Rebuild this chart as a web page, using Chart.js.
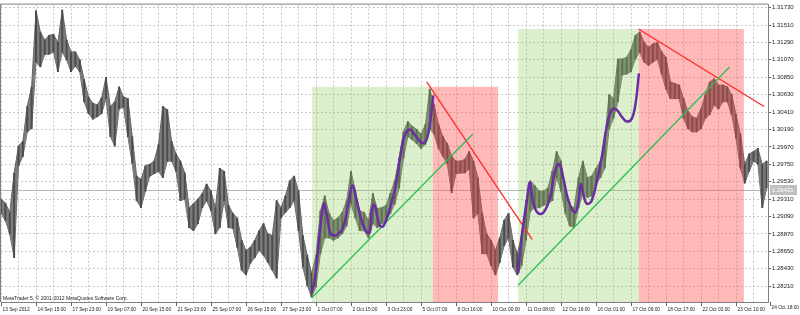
<!DOCTYPE html>
<html>
<head>
<meta charset="utf-8">
<script src="https://cdn.jsdelivr.net/npm/chart.js@4.4.1/dist/chart.umd.min.js"></script>
<style>
  html, body { margin: 0; padding: 0; background: #fff; }
  #wrap { width: 800px; height: 315px; }
</style>
</head>
<body>
<div id="wrap"><canvas id="c" width="800" height="315"></canvas></div>
<script>
// one x unit = 4 hourly bars, a date label every 8 units
const xLabels = ["13 Sep 2012", "14 Sep 15:00", "17 Sep 23:00", "19 Sep 07:00", "20 Sep 15:00",
  "21 Sep 23:00", "25 Sep 07:00", "26 Sep 15:00", "27 Sep 23:00", "1 Oct 07:00", "2 Oct 15:00",
  "3 Oct 23:00", "5 Oct 07:00", "8 Oct 16:00", "10 Oct 00:00", "11 Oct 08:00", "12 Oct 16:00",
  "16 Oct 01:00", "17 Oct 09:00", "18 Oct 17:00", "22 Oct 02:00", "23 Oct 10:00", "24 Oct 18:00"];

const yTicks = [1.31730, 1.31510, 1.31290, 1.31070, 1.30850, 1.30630, 1.30410, 1.30190, 1.29970,
  1.29750, 1.29530, 1.29310, 1.29090, 1.28870, 1.28650, 1.28430, 1.28210];

const highs = [
  1.2931, 1.2926, 1.2914, 1.2964, 1.2998, 1.3004, 1.3048, 1.3073, 1.3169, 1.3142,
  1.3132, 1.3138, 1.3139, 1.3129, 1.3170, 1.3132, 1.3117, 1.3117, 1.3107, 1.3082,
  1.3060, 1.3052, 1.3050, 1.3059, 1.3085, 1.3048, 1.3054, 1.3073, 1.3060, 1.3058,
  1.3010, 1.2960, 1.2956, 1.2973, 1.2975, 1.2979, 1.3000, 1.3048, 1.3044, 1.3004,
  1.2988, 1.2979, 1.2964, 1.2920, 1.2925, 1.2931, 1.2938, 1.2950, 1.2941, 1.2920,
  1.2970, 1.2966, 1.2923, 1.2913, 1.2907, 1.2879, 1.2866, 1.2870, 1.2879, 1.2891,
  1.2900, 1.2887, 1.2885, 1.2929, 1.2920, 1.2935, 1.2954, 1.2960, 1.2941, 1.2885,
  1.2860, 1.2837, 1.2860, 1.2916, 1.2935, 1.2913, 1.2904, 1.2907, 1.2914, 1.2929,
  1.2966, 1.2941, 1.2916, 1.2914, 1.2904, 1.2938, 1.2919, 1.2920, 1.2923, 1.2938,
  1.2954, 1.2983, 1.3016, 1.3029, 1.3023, 1.3019, 1.3013, 1.3025, 1.3070, 1.3050,
  1.3025, 1.3010, 1.3001, 1.2985, 1.2979, 1.2979, 1.2981, 1.2991, 1.2979, 1.2958,
  1.2913, 1.2887, 1.2879, 1.2866, 1.2882, 1.2904, 1.2913, 1.2879, 1.2862, 1.2885,
  1.2929, 1.2954, 1.2948, 1.2941, 1.2941, 1.2945, 1.2966, 1.2991, 1.2979, 1.2945,
  1.2923, 1.2920, 1.2958, 1.2979, 1.2958, 1.2960, 1.2970, 1.2979, 1.3008, 1.3063,
  1.3058, 1.3108, 1.3108, 1.3110, 1.3120, 1.3138, 1.3142, 1.3129, 1.3123, 1.3127,
  1.3129, 1.3117, 1.3110, 1.3079, 1.3077, 1.3075, 1.3058, 1.3042, 1.3035, 1.3033,
  1.3045, 1.3063, 1.3079, 1.3083, 1.3075, 1.3075, 1.3073, 1.3063, 1.3038, 1.3013,
  1.2975, 1.2988, 1.2991, 1.2995, 1.2975, 1.2979
];

const lows = [
  1.2913, 1.2904, 1.2887, 1.2857, 1.2973, 1.2985, 1.3016, 1.3020, 1.3104, 1.3098,
  1.3114, 1.3114, 1.3117, 1.3092, 1.3117, 1.3107, 1.3092, 1.3099, 1.3092, 1.3054,
  1.3039, 1.3032, 1.3035, 1.3039, 1.3058, 1.3010, 1.2998, 1.3045, 1.3047, 1.3010,
  1.2976, 1.2929, 1.2920, 1.2941, 1.2960, 1.2963, 1.2966, 1.2958, 1.2979, 1.2979,
  1.2966, 1.2929, 1.2931, 1.2895, 1.2891, 1.2900, 1.2920, 1.2929, 1.2916, 1.2887,
  1.2895, 1.2929, 1.2895, 1.2894, 1.2870, 1.2841, 1.2835, 1.2850, 1.2857, 1.2866,
  1.2860, 1.2851, 1.2841, 1.2831, 1.2907, 1.2914, 1.2920, 1.2929, 1.2891, 1.2845,
  1.2822, 1.2807, 1.2820, 1.2862, 1.2882, 1.2882, 1.2879, 1.2882, 1.2887, 1.2897,
  1.2925, 1.2907, 1.2891, 1.2891, 1.2882, 1.2900, 1.2895, 1.2900, 1.2904, 1.2913,
  1.2925, 1.2945, 1.2983, 1.3010, 1.3006, 1.3001, 1.2995, 1.3000, 1.3020, 1.3013,
  1.2995, 1.2985, 1.2976, 1.2939, 1.2963, 1.2964, 1.2964, 1.2969, 1.2907, 1.2913,
  1.2862, 1.2862, 1.2847, 1.2835, 1.2851, 1.2872, 1.2882, 1.2845, 1.2835, 1.2847,
  1.2879, 1.2916, 1.2920, 1.2920, 1.2923, 1.2925, 1.2929, 1.2958, 1.2941, 1.2913,
  1.2897, 1.2895, 1.2920, 1.2938, 1.2933, 1.2935, 1.2950, 1.2958, 1.2970, 1.3020,
  1.3033, 1.3054, 1.3088, 1.3089, 1.3092, 1.3108, 1.3117, 1.3104, 1.3100, 1.3104,
  1.3108, 1.3089, 1.3070, 1.3058, 1.3058, 1.3058, 1.3033, 1.3020, 1.3016, 1.3016,
  1.3020, 1.3033, 1.3038, 1.3050, 1.3045, 1.3054, 1.3054, 1.3038, 1.3008, 1.2970,
  1.2951, 1.2966, 1.2979, 1.2975, 1.2920, 1.2945
];

const lastPrice = 1.29421;

// [from, to, top price] - zones run down to the bottom of the chart
const buyZones = [[71.1, 98.7, 1.3073], [118.2, 145.8, 1.3146]];
const sellZones = [[98.7, 113.6, 1.3073], [145.8, 169.8, 1.3146]];

const supportLines = [
  [[71.0, 1.2806], [107.8, 1.3013]],
  [[118.2, 1.2822], [166.5, 1.3098]]
];
const resistLines = [
  [[97.3, 1.3079], [121.4, 1.2880]],
  [[145.7, 1.3146], [174.4, 1.3048]]
];

const wave1 = [[71.0, 1.2812], [71.8, 1.2833], [72.9, 1.2891], [73.8, 1.2925], [74.4, 1.2913],
  [75.2, 1.2889], [76.0, 1.2885], [77.1, 1.2887], [78.2, 1.2895], [79.4, 1.2925], [80.3, 1.2948],
  [81.3, 1.2929], [82.4, 1.2904], [83.6, 1.2889], [84.3, 1.2889], [84.7, 1.2916], [85.3, 1.2924],
  [85.9, 1.2912], [86.6, 1.2897], [87.4, 1.2897], [88.5, 1.2912], [90.1, 1.2945], [91.2, 1.2983],
  [92.3, 1.3012], [93.5, 1.3019], [94.6, 1.3012], [96.2, 1.3002], [97.1, 1.3004], [97.9, 1.3021],
  [98.8, 1.3062]];

const wave2 = [[118.2, 1.2837], [119.0, 1.2883], [120.2, 1.2929], [120.9, 1.2952], [121.7, 1.2925],
  [122.8, 1.2913], [124.0, 1.2914], [125.5, 1.2933], [126.6, 1.2966], [127.6, 1.2975], [128.5, 1.2958],
  [129.7, 1.2929], [131.2, 1.2914], [132.0, 1.2929], [132.5, 1.2950], [133.1, 1.2937], [133.9, 1.2925],
  [135.0, 1.2929], [136.2, 1.2954], [137.3, 1.2983], [138.4, 1.3021], [139.6, 1.3044], [140.7, 1.3044],
  [141.9, 1.3035], [143.0, 1.3029], [144.2, 1.3033], [145.1, 1.3054], [145.8, 1.3090]];

const FONT = "Liberation Sans";

function lineSet(points, color, width, tension) {
  return {
    data: points.map(p => ({ x: p[0], y: p[1] })),
    borderColor: color,
    borderWidth: width,
    pointRadius: 0,
    tension: tension,
    fill: false,
    order: 0
  };
}

const overlay = {
  id: "overlay",
  beforeDatasetsDraw(chart) {
    const { ctx, chartArea: a, scales: { y } } = chart;
    const py = Math.round(y.getPixelForValue(lastPrice)) + 0.5;
    ctx.save();
    ctx.strokeStyle = "#b8b8b8";
    ctx.lineWidth = 1;
    ctx.beginPath();
    ctx.moveTo(a.left, py);
    ctx.lineTo(a.right, py);
    ctx.stroke();
    ctx.restore();
  },
  afterDatasetDraw(chart, args) {
    // shade the zones over the price, under the drawn lines
    if (!chart.data.datasets[args.index].priceBars) return;
    const { ctx, chartArea: a, scales: { x, y } } = chart;
    ctx.save();
    ctx.beginPath();
    ctx.rect(a.left, a.top, a.right - a.left, a.bottom - a.top);
    ctx.clip();
    const paint = (zones, color) => zones.forEach(z => {
      const x0 = x.getPixelForValue(z[0]);
      const x1 = x.getPixelForValue(z[1]);
      const y0 = y.getPixelForValue(z[2]);
      ctx.fillStyle = color;
      ctx.fillRect(x0, y0, x1 - x0, a.bottom - y0);
    });
    paint(buyZones, "rgba(140, 205, 90, 0.3)");
    paint(sellZones, "rgba(255, 70, 70, 0.38)");
    ctx.restore();
  },
  afterDraw(chart) {
    const { ctx, chartArea: a, scales: { x, y } } = chart;
    ctx.save();
    ctx.strokeStyle = "#808080";
    ctx.lineWidth = 1;
    ctx.beginPath();
    ctx.moveTo(a.left - 0.5, a.bottom);
    ctx.lineTo(a.left - 0.5, a.top - 0.5);
    ctx.lineTo(a.right, a.top - 0.5);
    ctx.stroke();

    const py = Math.round(y.getPixelForValue(lastPrice));
    ctx.fillStyle = "#c0c0c0";
    ctx.fillRect(a.right + 2, py - 5, 27, 10);
    ctx.fillStyle = "#ffffff";
    ctx.font = "6px " + FONT;
    ctx.textBaseline = "middle";
    ctx.fillText(lastPrice.toFixed(5), a.right + 4, py);

    // the last date label sits right of the plot
    const lx = Math.round(x.getPixelForValue(176)) - 1;
    ctx.strokeStyle = "#606060";
    ctx.beginPath();
    ctx.moveTo(lx + 0.5, a.bottom);
    ctx.lineTo(lx + 0.5, a.bottom + 4);
    ctx.stroke();
    ctx.fillStyle = "#222";
    ctx.font = "4.8px " + FONT;
    ctx.textBaseline = "top";
    ctx.fillText(xLabels[22], lx + 1.5, a.bottom + 3.5);

    ctx.font = "5px " + FONT;
    ctx.textBaseline = "alphabetic";
    ctx.fillText("MetaTrader 5, \u00a9 2001-2012 MetaQuotes Software Corp.", 3, a.bottom - 2);
    ctx.restore();
  }
};

new Chart(document.getElementById("c"), {
  type: "line",
  data: {
    datasets: [
      lineSet(wave1, "#6a2ea2", 2.5, 0.4),
      lineSet(wave2, "#6a2ea2", 2.5, 0.4),
      lineSet(supportLines[0], "#2cbf55", 1.3, 0),
      lineSet(supportLines[1], "#2cbf55", 1.3, 0),
      lineSet(resistLines[0], "#ff2a2a", 1.3, 0),
      lineSet(resistLines[1], "#ff2a2a", 1.3, 0),
      {
        data: lows.map((v, k) => ({ x: k, y: v })),
        borderColor: "#666666",
        borderWidth: 1,
        pointRadius: 0,
        tension: 0,
        fill: false,
        order: 3
      },
      {
        data: highs.map((v, k) => ({ x: k, y: v })),
        borderColor: "#666666",
        borderWidth: 1,
        backgroundColor: "#7c7c7c",
        pointRadius: 0,
        tension: 0,
        fill: "-1",
        order: 2
      },
      {
        type: "bar",
        priceBars: true,
        data: highs.map((h, k) => ({ x: k, y: [lows[k], h] })),
        backgroundColor: "#4c4c4c",
        barThickness: 1.3,
        order: 1
      }
    ]
  },
  options: {
    responsive: false,
    animation: false,
    events: [],
    layout: { padding: { top: 2, left: 1, right: 0, bottom: 0 } },
    plugins: {
      legend: { display: false },
      tooltip: { enabled: false }
    },
    scales: {
      x: {
        type: "linear",
        min: 0,
        max: 175.31,
        offset: false,
        afterBuildTicks: scale => {
          const t = [];
          for (let v = 0; v <= 172; v += 4) t.push({ value: v });
          scale.ticks = t;
        },
        afterFit: scale => { scale.height = 13; },
        ticks: {
          autoSkip: false,
          maxRotation: 0,
          align: "start",
          labelOffset: 1.5,
          padding: 1,
          color: "#222",
          font: { family: FONT, size: 4.8 },
          callback: v => (v % 8 === 0 ? xLabels[v / 8] : "")
        },
        grid: {
          offset: false,
          color: "#c8c8c8",
          tickLength: 4,
          tickColor: c => (c.tick && c.tick.value % 8 === 0 ? "#606060" : "rgba(0,0,0,0)")
        },
        border: { display: true, color: "#808080", dash: [2, 2] }
      },
      y: {
        type: "linear",
        position: "right",
        min: 1.28009,
        max: 1.31768,
        afterBuildTicks: scale => { scale.ticks = yTicks.map(v => ({ value: v })); },
        afterFit: scale => { scale.width = 32; },
        ticks: {
          padding: 1,
          color: "#222",
          font: { family: FONT, size: 6 },
          callback: v => v.toFixed(5)
        },
        grid: {
          color: "#c8c8c8",
          tickLength: 3,
          tickColor: "#606060"
        },
        border: { display: true, color: "#808080", dash: [2, 2] }
      }
    }
  },
  plugins: [overlay]
});
</script>
</body>
</html>
